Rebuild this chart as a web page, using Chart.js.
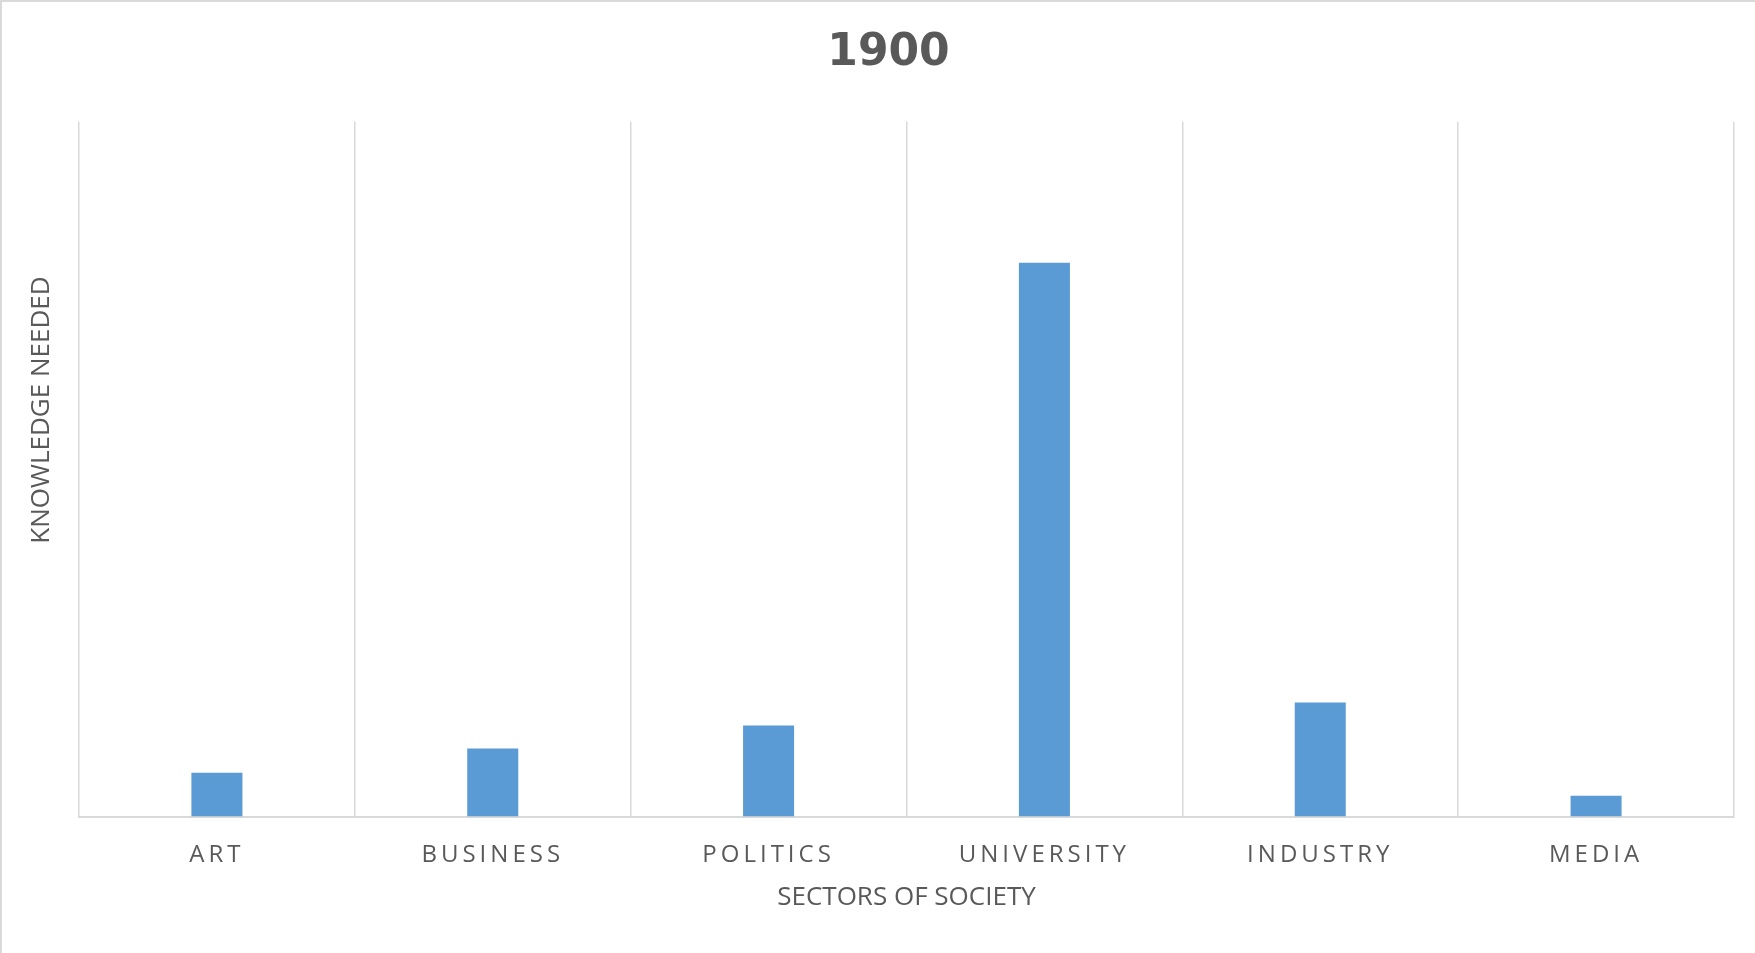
<!DOCTYPE html>
<html><head><meta charset="utf-8">
<script src="https://cdn.jsdelivr.net/npm/chart.js@4.4.0/dist/chart.umd.min.js"></script>
<style>
html,body{margin:0;padding:0;background:#fff;overflow:hidden}
#wrap{position:relative;width:1755px;height:953px}
#frame{position:absolute;left:0;top:0;right:0;bottom:0;border-top:2px solid #d9d9d9;border-left:2px solid #d9d9d9;pointer-events:none}
</style></head><body>
<div id="wrap"><canvas id="c"></canvas><div id="frame"></div></div>
<script>
const categories = ['ART', 'BUSINESS', 'POLITICS', 'UNIVERSITY', 'INDUSTRY', 'MEDIA'];
const knowledgeNeeded = [6.3, 9.8, 13.1, 79.7, 16.4, 3.0];
const chartTitle = '1900';
const xAxisTitle = 'SECTORS OF SOCIETY';
const yAxisTitle = 'KNOWLEDGE NEEDED';
const yMin = 0, yMax = 100;

const textColor = '#595959';
const gridColor = '#d9d9d9';
const barColor = '#5b9bd5';

class SpacedCategoryScale extends Chart.CategoryScale {
  drawLabels(area) {
    const ctx = this.ctx;
    ctx.save();
    if ('letterSpacing' in ctx) ctx.letterSpacing = '4px';
    super.drawLabels(area);
    ctx.restore();
  }
}
SpacedCategoryScale.id = 'spacedCategory';
SpacedCategoryScale.defaults = Chart.CategoryScale.defaults;
Chart.register(SpacedCategoryScale);

const yTitlePlugin = {
  id: 'yTitlePlugin',
  afterDraw(chart) {
    const a = chart.chartArea, ctx = chart.ctx;
    ctx.save();
    ctx.translate(a.left - 37, a.top + 0.415 * (a.bottom - a.top));
    ctx.rotate(-Math.PI / 2);
    ctx.font = '26px "Open Sans"';
    ctx.fillStyle = textColor;
    ctx.textAlign = 'center';
    ctx.textBaseline = 'middle';
    ctx.fillText(yAxisTitle, 0, 0);
    ctx.restore();
  }
};

new Chart(document.getElementById('c'), {
  type: 'bar',
  data: {
    labels: categories,
    datasets: [{
      data: knowledgeNeeded,
      backgroundColor: barColor,
      borderWidth: 0,
      barPercentage: 0.185,
      categoryPercentage: 1
    }]
  },
  options: {
    responsive: true,
    maintainAspectRatio: false,
    animation: false,
    layout: { padding: { left: 43, right: 21, top: 0, bottom: 40 } },
    plugins: {
      legend: { display: false },
      tooltip: { enabled: false },
      title: {
        display: true,
        text: chartTitle,
        color: textColor,
        font: { family: '"DejaVu Sans"', size: 44, weight: 'bold' },
        padding: { top: 27, bottom: 42 }
      }
    },
    scales: {
      x: {
        type: 'spacedCategory',
        offset: true,
        grid: { offset: true, color: gridColor, lineWidth: 1.5, drawTicks: false },
        border: { display: true, color: gridColor, width: 2 },
        ticks: { color: textColor, font: { family: '"Open Sans"', size: 24 }, padding: 24, maxRotation: 0 },
        title: { display: true, text: xAxisTitle, color: textColor, font: { family: '"Open Sans"', size: 26 }, padding: { top: -11.5, bottom: 0 } }
      },
      y: {
        min: yMin,
        max: yMax,
        grid: { display: false },
        border: { display: false },
        ticks: { display: false },
        afterFit(scale) { scale.width = 36; }
      }
    }
  },
  plugins: [yTitlePlugin]
});
</script>
</body></html>
